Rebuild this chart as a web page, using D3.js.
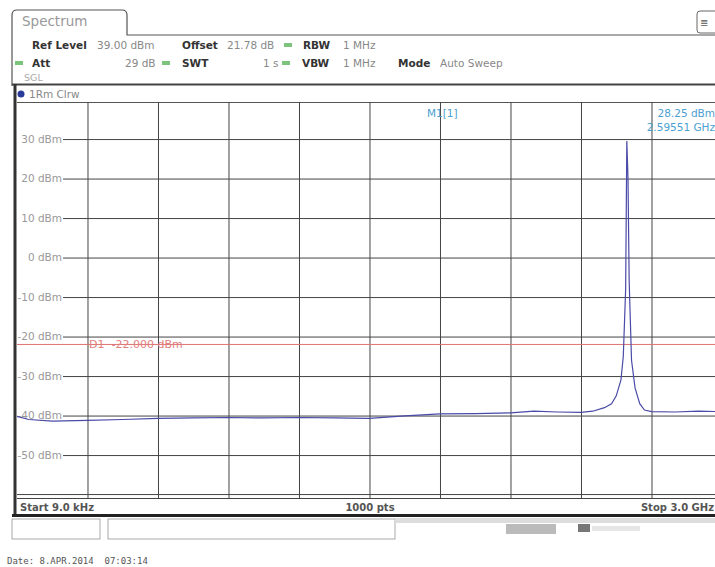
<!DOCTYPE html>
<html>
<head>
<meta charset="utf-8">
<script src="https://cdn.jsdelivr.net/npm/d3@7"></script>
<style>
  body { margin: 0; background: #fff; }
  svg { display: block; font-family: "DejaVu Sans", sans-serif; }
  svg text { white-space: pre; }
</style>
</head>
<body>
<svg id="chart" width="715" height="567"></svg>
<script>
// trace, frequency in GHz and level in dBm
const freqGHz = [0.000009, 0.05, 0.15, 0.3, 0.45, 0.6, 0.75, 0.9, 1.05, 1.2, 1.35, 1.5, 1.65, 1.8, 1.95, 2.1,
  2.2, 2.3, 2.4, 2.45, 2.5, 2.53, 2.55, 2.57, 2.58, 2.59, 2.595, 2.6, 2.605, 2.615, 2.63, 2.65, 2.67, 2.7, 2.8, 2.9, 3.0];
const levelDbm = [-40.2, -41.0, -41.4, -41.2, -41.0, -40.7, -40.6, -40.5, -40.6, -40.5, -40.6, -40.7, -40.1, -39.6, -39.5, -39.3,
  -38.9, -39.1, -39.2, -38.9, -38.0, -37.0, -35.0, -31.0, -25.0, -8.0, 29.5, 20.0, -6.0, -26.0, -33.0, -37.0, -38.6, -39.0, -39.1, -38.9, -39.0];

const yTicks = [30, 20, 10, 0, -10, -20, -30, -40, -50];
const xGridGHz = [0.3, 0.6, 0.9, 1.2, 1.5, 1.8, 2.1, 2.4, 2.7];
const refLevel = 39, bottomLevel = -61, displayLine = -22;

const headerRow1 = [["Ref Level", 32, true], ["39.00 dBm", 97, false], ["Offset", 182, true], ["21.78 dB", 227, false], ["RBW", 303, true], ["1 MHz", 343, false]];
const headerRow2 = [["Att", 32, true], ["29 dB", 125, false], ["SWT", 182, true], ["1 s", 263, false], ["VBW", 302, true], ["1 MHz", 343, false], ["Mode", 398, true], ["Auto Sweep", 440, false]];
const greenDots = [[288, 45], [19, 63], [166, 63], [286, 63]];

var svg = d3.select("#chart");

var x = d3.scaleLinear().domain([0.000009, 3]).range([17, 722]);
var y = d3.scaleLinear().domain([bottomLevel, refLevel]).range([498.5, 103.5]);

// tab + header box
svg.append("path")
  .attr("d", "M12,86 L12,15 Q12,10 17,10 L122,10 Q127,10 127,15 L127,35 L715,35")
  .attr("fill", "none").attr("stroke", "#555").attr("stroke-width", 1.2);
svg.append("text").attr("x", 22).attr("y", 26).attr("font-size", 13.5).attr("fill", "#999").text("Spectrum");

// top right icon
svg.append("rect").attr("x", 697).attr("y", 11).attr("width", 22).attr("height", 22).attr("rx", 3)
  .attr("fill", "#fff").attr("stroke", "#666");
svg.append("text").attr("x", 700).attr("y", 26).attr("font-size", 10).attr("fill", "#555").text("\u2263");

svg.selectAll(".h1").data(headerRow1).enter().append("text")
  .attr("x", d => d[1]).attr("y", 49).attr("font-size", 10.5)
  .attr("font-weight", d => d[2] ? "bold" : "normal")
  .attr("fill", d => d[2] ? "#333" : "#888").text(d => d[0]);
svg.selectAll(".h2").data(headerRow2).enter().append("text")
  .attr("x", d => d[1]).attr("y", 67).attr("font-size", 10.5)
  .attr("font-weight", d => d[2] ? "bold" : "normal")
  .attr("fill", d => d[2] ? "#333" : "#888").text(d => d[0]);
svg.selectAll(".gd").data(greenDots).enter().append("rect")
  .attr("x", d => d[0] - 4).attr("y", d => d[1] - 2).attr("width", 8).attr("height", 4).attr("fill", "#7cc47c");
svg.append("text").attr("x", 24).attr("y", 81).attr("font-size", 9.5).attr("fill", "#aaa").text("SGL");

svg.append("line").attr("x1", 12).attr("x2", 715).attr("y1", 84.5).attr("y2", 84.5).attr("stroke", "#444").attr("stroke-width", 2);

// trace label bar
svg.append("circle").attr("cx", 21).attr("cy", 94).attr("r", 3.5).attr("fill", "#2a3a9a");
svg.append("text").attr("x", 29).attr("y", 98).attr("font-size", 10.5).attr("fill", "#888").text("1Rm Clrw");
svg.append("line").attr("x1", 17).attr("x2", 715).attr("y1", 102.5).attr("y2", 102.5).attr("stroke", "#555");

// grid
var gx = svg.append("g").attr("transform", "translate(0,498)")
  .call(d3.axisBottom(x).tickValues(xGridGHz).tickSize(-396).tickFormat(""));
gx.select(".domain").remove();
gx.selectAll("line").attr("stroke", "#444");

var gy = svg.append("g").attr("transform", "translate(63,0)")
  .call(d3.axisLeft(y).tickValues(yTicks).tickSize(-660).tickPadding(1).tickFormat(d => d + " dBm"));
gy.select(".domain").remove();
gy.selectAll("line").attr("stroke", "#444");
gy.selectAll("text").attr("font-size", 10.5).attr("fill", "#999").attr("font-family", "DejaVu Sans, sans-serif");

svg.append("line").attr("x1", 17).attr("x2", 715).attr("y1", y(-60)).attr("y2", y(-60)).attr("stroke", "#444");
svg.append("line").attr("x1", 17).attr("x2", 715).attr("y1", 498.5).attr("y2", 498.5).attr("stroke", "#444");

// display line D1
svg.append("line").attr("x1", 17).attr("x2", 715).attr("y1", y(displayLine)).attr("y2", y(displayLine))
  .attr("stroke", "#e07070").attr("stroke-width", 1);
svg.append("text").attr("x", 89).attr("y", y(displayLine) + 4).attr("font-size", 11).attr("fill", "#e08080")
  .text("D1  -22.000 dBm");

// trace
var line = d3.line().x((d, i) => x(freqGHz[i])).y(d => y(d));
svg.append("path").datum(levelDbm).attr("d", line)
  .attr("fill", "none").attr("stroke", "#4a4aa8").attr("stroke-width", 1.2);

// marker text
svg.append("text").attr("x", 427).attr("y", 117).attr("font-size", 10.5).attr("fill", "#4aa0d0").text("M1[1]");
svg.append("text").attr("x", 715).attr("y", 117).attr("text-anchor", "end").attr("font-size", 10.5).attr("fill", "#4aa0d0").text("28.25 dBm");
svg.append("text").attr("x", 715).attr("y", 131).attr("text-anchor", "end").attr("font-size", 10.5).attr("fill", "#4aa0d0").text("2.59551 GHz");

// frame
svg.append("line").attr("x1", 15).attr("x2", 15).attr("y1", 84).attr("y2", 517).attr("stroke", "#333").attr("stroke-width", 3);
svg.append("line").attr("x1", 12).attr("x2", 715).attr("y1", 515.5).attr("y2", 515.5).attr("stroke", "#222").attr("stroke-width", 3);
svg.append("text").attr("x", 20).attr("y", 511).attr("font-size", 10).attr("font-weight", "bold").attr("fill", "#555").text("Start 9.0 kHz");
svg.append("text").attr("x", 370).attr("y", 511).attr("text-anchor", "middle").attr("font-size", 10).attr("font-weight", "bold").attr("fill", "#555").text("1000 pts");
svg.append("text").attr("x", 714).attr("y", 511).attr("text-anchor", "end").attr("font-size", 10).attr("font-weight", "bold").attr("fill", "#555").text("Stop 3.0 GHz");

// status bar
svg.append("rect").attr("x", 12).attr("y", 519).attr("width", 88).attr("height", 20).attr("fill", "#fff").attr("stroke", "#aaa");
svg.append("rect").attr("x", 108).attr("y", 519).attr("width", 287).attr("height", 20).attr("fill", "#fff").attr("stroke", "#aaa");
svg.append("rect").attr("x", 395).attr("y", 518).attr("width", 320).attr("height", 5).attr("fill", "#ddd");
svg.append("rect").attr("x", 506).attr("y", 524).attr("width", 50).attr("height", 10).attr("fill", "#bbb");
svg.append("rect").attr("x", 578).attr("y", 524).attr("width", 12).attr("height", 8).attr("fill", "#777");
svg.append("rect").attr("x", 592).attr("y", 526).attr("width", 48).attr("height", 5).attr("fill", "#e6e6e6");

svg.append("text").attr("x", 7).attr("y", 564).attr("font-size", 9).attr("font-family", "DejaVu Sans Mono, monospace")
  .attr("fill", "#555").text("Date: 8.APR.2014  07:03:14");
</script>
</body>
</html>
